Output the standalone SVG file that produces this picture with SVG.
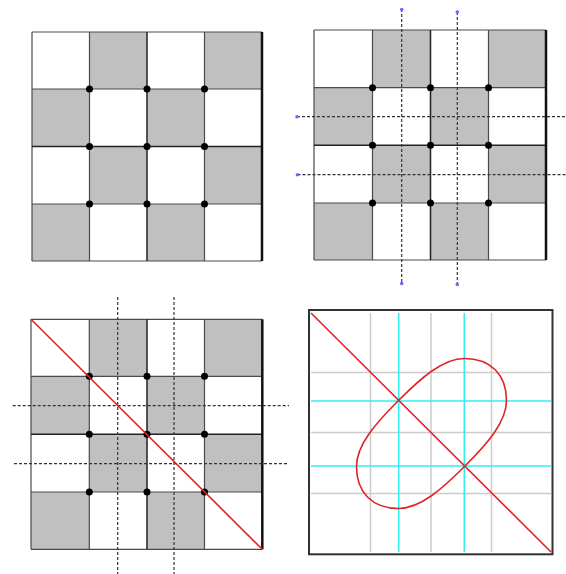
<svg xmlns="http://www.w3.org/2000/svg" width="566" height="574" viewBox="0 0 566 574">
<style>
.cell{fill:#c0c0c0;stroke:none}
.grid{stroke:#4a4a4a;stroke-width:1.2;fill:none}
.mid{stroke:#222;stroke-width:1.5;fill:none}
.edge{stroke:#111;stroke-width:2.5;fill:none}
.dot{fill:#000}
.dash{stroke:#333;stroke-width:1.2;stroke-dasharray:3 2;fill:none}
.end{fill:#6a6aff}
.red{stroke:#e02424;stroke-width:1.6;fill:none}
.lg{stroke:#cccccc;stroke-width:1.5;fill:none}
.cy{stroke:#33f0f0;stroke-width:1.6;fill:none}
</style>
<rect width="566" height="574" fill="#fff"/>
<g id="panel1">
<rect class="cell" x="89.5" y="32" width="57.5" height="57"/>
<rect class="cell" x="204.5" y="32" width="57.5" height="57"/>
<rect class="cell" x="32" y="89" width="57.5" height="57.5"/>
<rect class="cell" x="147" y="89" width="57.5" height="57.5"/>
<rect class="cell" x="89.5" y="146.5" width="57.5" height="57.5"/>
<rect class="cell" x="204.5" y="146.5" width="57.5" height="57.5"/>
<rect class="cell" x="32" y="204" width="57.5" height="57"/>
<rect class="cell" x="147" y="204" width="57.5" height="57"/>
<path class="grid" d="M32 32H262M32 89H262M32 204H262M32 261H262M32 32V261M89.5 32V261M204.5 32V261"/>
<path class="mid" d="M32 146.5H262M147 32V261"/>
<path class="edge" d="M262 32V261"/>
<circle class="dot" cx="89.5" cy="89" r="3.5"/><circle class="dot" cx="147" cy="89" r="3.5"/><circle class="dot" cx="204.5" cy="89" r="3.5"/>
<circle class="dot" cx="89.5" cy="146.5" r="3.5"/><circle class="dot" cx="147" cy="146.5" r="3.5"/><circle class="dot" cx="204.5" cy="146.5" r="3.5"/>
<circle class="dot" cx="89.5" cy="204" r="3.5"/><circle class="dot" cx="147" cy="204" r="3.5"/><circle class="dot" cx="204.5" cy="204" r="3.5"/>
</g>
<g id="panel2">
<rect class="cell" x="372.5" y="30" width="58" height="57.7"/>
<rect class="cell" x="488.5" y="30" width="57.5" height="57.7"/>
<rect class="cell" x="314" y="87.7" width="58.5" height="57.6"/>
<rect class="cell" x="430.5" y="87.7" width="58" height="57.6"/>
<rect class="cell" x="372.5" y="145.3" width="58" height="57.7"/>
<rect class="cell" x="488.5" y="145.3" width="57.5" height="57.7"/>
<rect class="cell" x="314" y="203" width="58.5" height="57"/>
<rect class="cell" x="430.5" y="203" width="58" height="57"/>
<path class="grid" d="M314 30H546M314 87.7H546M314 203H546M314 260H546M314 30V260M372.5 30V260M488.5 30V260"/>
<path class="mid" d="M314 145.3H546M430.5 30V260"/>
<path class="edge" d="M546 30V260"/>
<circle class="dot" cx="372.5" cy="87.7" r="3.5"/><circle class="dot" cx="430.5" cy="87.7" r="3.5"/><circle class="dot" cx="488.5" cy="87.7" r="3.5"/>
<circle class="dot" cx="372.5" cy="145.3" r="3.5"/><circle class="dot" cx="430.5" cy="145.3" r="3.5"/><circle class="dot" cx="488.5" cy="145.3" r="3.5"/>
<circle class="dot" cx="372.5" cy="203" r="3.5"/><circle class="dot" cx="430.5" cy="203" r="3.5"/><circle class="dot" cx="488.5" cy="203" r="3.5"/>
</g>
<g id="panel3">
<rect class="cell" x="89.3" y="319.3" width="57.7" height="57"/>
<rect class="cell" x="204.5" y="319.3" width="57.8" height="57"/>
<rect class="cell" x="31" y="376.3" width="58.3" height="58"/>
<rect class="cell" x="147" y="376.3" width="57.5" height="58"/>
<rect class="cell" x="89.3" y="434.3" width="57.7" height="57.7"/>
<rect class="cell" x="204.5" y="434.3" width="57.8" height="57.7"/>
<rect class="cell" x="31" y="492" width="58.3" height="57.3"/>
<rect class="cell" x="147" y="492" width="57.5" height="57.3"/>
<path class="grid" d="M31 319.3H262.3M31 376.3H262.3M31 492H262.3M31 549.3H262.3M31 319.3V549.3M89.3 319.3V549.3M204.5 319.3V549.3"/>
<path class="mid" d="M31 434.3H262.3M147 319.3V549.3"/>
<path class="edge" d="M262.3 319.3V549.3"/>
<circle class="dot" cx="89.3" cy="376.3" r="3.5"/><circle class="dot" cx="147" cy="376.3" r="3.5"/><circle class="dot" cx="204.5" cy="376.3" r="3.5"/>
<circle class="dot" cx="89.3" cy="434.3" r="3.5"/><circle class="dot" cx="147" cy="434.3" r="3.5"/><circle class="dot" cx="204.5" cy="434.3" r="3.5"/>
<circle class="dot" cx="89.3" cy="492" r="3.5"/><circle class="dot" cx="147" cy="492" r="3.5"/><circle class="dot" cx="204.5" cy="492" r="3.5"/>
</g>
<g id="panel4">
<path class="lg" d="M370.5 313V552M431 313V552M491.5 313V552M311 372.5H551M311 432.5H551M311 493.5H551"/>
<path class="cy" d="M398.7 313V552M464.3 313V552M311 401H551M311 466H551"/>
<rect x="309" y="310" width="243.5" height="244.3" fill="none" stroke="#333" stroke-width="2"/>
</g>
<g id="connectors">
<path class="dash" d="M401.7 9V284M457.3 12V285M297 116.7H566M297.5 174.7H566"/>
<circle class="end" cx="401.7" cy="9.5" r="1.8"/><circle class="end" cx="401.7" cy="283.5" r="1.8"/>
<circle class="end" cx="457.3" cy="12" r="1.8"/><circle class="end" cx="457.3" cy="284.5" r="1.8"/>
<circle class="end" cx="297" cy="116.7" r="1.8"/><circle class="end" cx="297.5" cy="174.7" r="1.8"/>
<path class="dash" d="M117.7 297V574M174 297V574M12.7 405.7H289M14 463.7H289"/>
<path class="red" d="M31 319.3L262.3 549.3"/>
<path class="red" d="M311 313L551 552"/>
<path class="red" d="M398.5 400.5C420.5 378.5 442.5 358.5 464.5 358.5C490.5 358.5 506.5 374.5 506.5 400.5C506.5 422.5 486.5 444.5 464.5 466.5C442.5 488.5 420.5 508.5 398.5 508.5C372.5 508.5 356.5 492.5 356.5 466.5C356.5 444.5 376.5 422.5 398.5 400.5Z"/>
</g>
</svg>
